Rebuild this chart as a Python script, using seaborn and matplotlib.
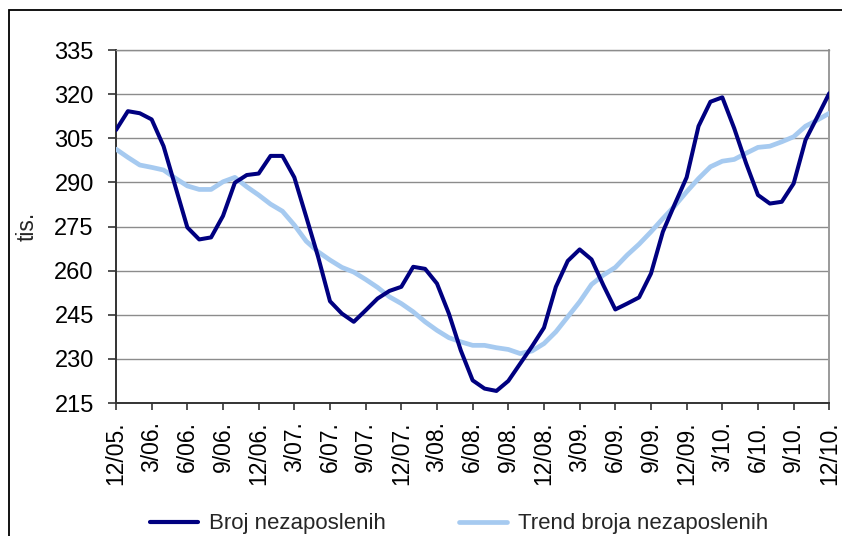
import numpy as np
import pandas as pd
import matplotlib
matplotlib.use("Agg")
import matplotlib.pyplot as plt
import seaborn as sns
from matplotlib.patches import Rectangle
from matplotlib.lines import Line2D

# ---- data ----
months = list(range(61))  # 12/05 .. 12/10, monthly
tick_labels = ["12/05.", "3/06.", "6/06.", "9/06.", "12/06.", "3/07.", "6/07.",
               "9/07.", "12/07.", "3/08.", "6/08.", "9/08.", "12/08.", "3/09.",
               "6/09.", "9/09.", "12/09.", "3/10.", "6/10.", "9/10.", "12/10."]
broj = [307.8, 314.2, 313.5, 311.4, 302.3, 288.5, 274.7, 270.6, 271.3, 278.6,
        289.9, 292.5, 293.0, 299.0, 299.0, 291.7, 278.3, 264.7, 249.6, 245.4,
        242.6, 246.5, 250.5, 253.1, 254.5, 261.3, 260.6, 255.6, 245.4, 232.9,
        222.7, 219.9, 219.1, 222.5, 228.4, 234.3, 240.6, 254.5, 263.3, 267.2,
        263.8, 255.0, 246.8, 248.8, 250.9, 259.0, 273.2, 282.6, 291.7, 309.1,
        317.4, 318.9, 308.4, 296.5, 285.7, 282.8, 283.4, 289.6, 304.4, 312.3,
        320.3]
trend = [301.3, 298.5, 295.9, 295.1, 294.2, 291.4, 288.8, 287.6, 287.6, 290.2,
         291.7, 288.5, 285.7, 282.6, 280.2, 275.5, 270.0, 266.4, 263.6, 261.1,
         259.5, 257.0, 254.3, 251.1, 248.8, 246.0, 242.6, 239.7, 237.2, 235.8,
         234.6, 234.6, 233.8, 233.2, 231.8, 232.7, 235.2, 239.2, 244.3, 249.4,
         255.3, 258.5, 261.1, 265.3, 269.0, 273.2, 277.7, 282.0, 286.8, 291.3,
         295.3, 297.2, 297.8, 299.9, 301.9, 302.3, 303.8, 305.5, 309.1, 311.2,
         313.5]
series_names = ["Broj nezaposlenih", "Trend broja nezaposlenih"]
y_ticks = [215, 230, 245, 260, 275, 290, 305, 320, 335]

df = pd.DataFrame({
    "mjesec": months * 2,
    "vrijednost": broj + trend,
    "serija": [series_names[0]] * len(broj) + [series_names[1]] * len(trend),
})

sns.set_theme(style="white")
plt.rcParams["font.family"] = ["Liberation Sans", "DejaVu Sans"]

fig = plt.figure(figsize=(8.42, 5.36), dpi=100)
ax = fig.add_axes([116 / 842, 1 - 403 / 536, (829.3 - 116) / 842, (403 - 50) / 536])

DARK = "#000080"
LIGHT = "#A6CAF0"
palette = {series_names[0]: DARK, series_names[1]: LIGHT}
sns.lineplot(data=df, x="mjesec", y="vrijednost", hue="serija",
             hue_order=[series_names[1], series_names[0]], palette=palette,
             linewidth=3.0, ax=ax, legend=False)
for line in ax.get_lines():
    if matplotlib.colors.to_hex(line.get_color()).lower() == DARK.lower():
        line.set_zorder(4)
        line.set_linewidth(2.9)
    else:
        line.set_zorder(3)
        line.set_linewidth(3.4)

ax.set_xlim(0, 60)
ax.set_ylim(215, 335)
ax.set_yticks(y_ticks)
ax.set_yticklabels([str(v) for v in y_ticks], fontsize=17)
ax.set_xticks(list(range(0, 61, 3)))
ax.set_xticklabels(tick_labels, rotation=90, fontsize=16.5)
ax.set_xlabel("")
ax.set_ylabel("tis.", fontsize=16.5)
ax.yaxis.set_label_coords(-0.108, 0.5)

ax.grid(axis="y", color="#8c8c8c", linewidth=1.0)
ax.grid(axis="x", visible=False)
ax.set_axisbelow(True)
for side in ["left", "bottom"]:
    ax.spines[side].set_color("#333333")
    ax.spines[side].set_linewidth(1.4)
ax.spines["right"].set_color("#9a9a9a")
ax.spines["right"].set_linewidth(1.4)
ax.spines["top"].set_color("#8c8c8c")
ax.spines["top"].set_linewidth(1.0)

ax.tick_params(axis="y", which="major", direction="out", length=6, width=1.2,
               color="#333333", pad=10, left=True)
ax.tick_params(axis="x", which="major", direction="out", length=5, width=1.2,
               color="#333333", pad=8, bottom=True)
for lab in ax.get_xticklabels() + ax.get_yticklabels():
    lab.set_color("black")

# legend
handles = [Line2D([], [], color=DARK, linewidth=3.0),
           Line2D([], [], color=LIGHT, linewidth=3.4)]
fig.legend(handles, series_names, loc="center", bbox_to_anchor=(0.545, 1 - 524 / 536),
           ncol=2, frameon=False, fontsize=16, handlelength=2.15, handletextpad=0.5,
           columnspacing=3.3, borderaxespad=0, borderpad=0)

# outer chart frame
fig.patches.append(Rectangle((9 / 842, -0.05), 1.2, 1 - 10 / 536 + 0.05,
                             transform=fig.transFigure, fill=False,
                             edgecolor="black", linewidth=1.3))

fig.savefig("out.png", dpi=100)
